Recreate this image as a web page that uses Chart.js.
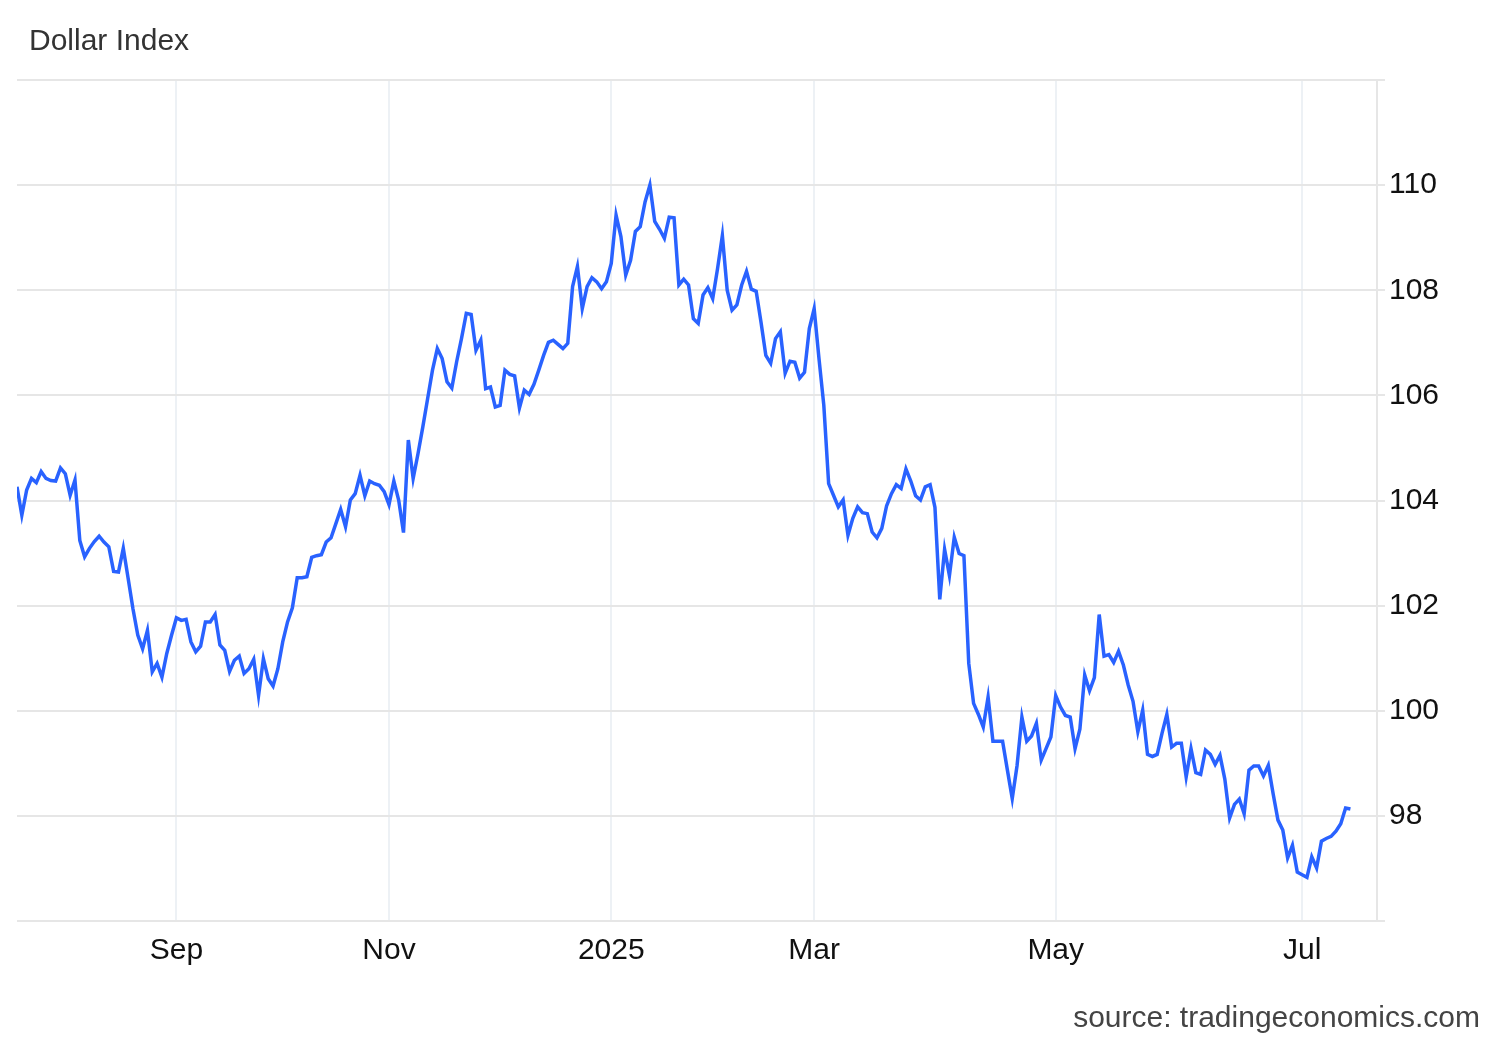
<!DOCTYPE html>
<html>
<head>
<meta charset="utf-8">
<title>Dollar Index</title>
<script src="https://cdn.jsdelivr.net/npm/chart.js@4.4.1/dist/chart.umd.min.js"></script>
<style>
  html, body { margin: 0; padding: 0; background: #fff; overflow: hidden; }
  .wrap { position: relative; width: 1500px; height: 1040px; }
  .title { position: absolute; left: 29px; top: 25px; font: 30px/30px "Liberation Sans", Arial, sans-serif; color: #333; white-space: nowrap; }
  .source { position: absolute; right: 20px; top: 1002px; font: 30px/30px "Liberation Sans", Arial, sans-serif; color: #444; white-space: nowrap; }
  canvas { position: absolute; left: 0; top: 0; }
</style>
</head>
<body>
<div class="wrap">
  <canvas id="grafico" width="1500" height="1040"></canvas>
  <div class="title">Dollar Index</div>
  <div class="source">source: tradingeconomics.com</div>
</div>
<script>
// daily closes, late Jul 2024 -> mid Jul 2025
const dollarIndex = [
  104.26, 103.72, 104.20, 104.42, 104.34, 104.55, 104.42, 104.38, 104.37, 104.62,
  104.51, 104.10, 104.39, 103.24, 102.93, 103.09, 103.22, 103.32, 103.21, 103.12,
  102.65, 102.64, 103.09, 102.52, 101.94, 101.44, 101.18, 101.53, 100.74, 100.90,
  100.64, 101.09, 101.44, 101.77, 101.72, 101.74, 101.31, 101.12, 101.23, 101.69,
  101.69, 101.83, 101.25, 101.15, 100.75, 100.96, 101.04, 100.71, 100.80, 100.98,
  100.29, 100.99, 100.61, 100.47, 100.80, 101.31, 101.69, 101.96, 102.53, 102.53,
  102.55, 102.92, 102.95, 102.97, 103.21, 103.29, 103.56, 103.83, 103.50, 104.01,
  104.13, 104.48, 104.09, 104.37, 104.32, 104.29, 104.17, 103.92, 104.37, 104.01,
  103.39, 105.15, 104.42, 104.89, 105.40, 105.94, 106.48, 106.89, 106.70, 106.26,
  106.14, 106.64, 107.08, 107.56, 107.54, 106.86, 107.05, 106.13, 106.16, 105.78,
  105.81, 106.48, 106.40, 106.37, 105.76, 106.10, 106.02, 106.21, 106.48, 106.76,
  107.01, 107.05, 106.97, 106.89, 106.99, 108.07, 108.45, 107.65, 108.07, 108.24,
  108.16, 108.03, 108.16, 108.51, 109.43, 109.02, 108.29, 108.57, 109.12, 109.21,
  109.68, 110.00, 109.31, 109.16, 108.99, 109.39, 109.38, 108.10, 108.21, 108.10,
  107.46, 107.37, 107.91, 108.05, 107.84, 108.41, 109.04, 108.00, 107.62, 107.72,
  108.10, 108.36, 108.02, 107.98, 107.39, 106.76, 106.61, 107.08, 107.21, 106.42,
  106.65, 106.63, 106.33, 106.44, 107.27, 107.65, 106.70, 105.81, 104.32, 104.10,
  103.88, 104.01, 103.34, 103.66, 103.88, 103.77, 103.75, 103.40, 103.29, 103.47,
  103.90, 104.13, 104.30, 104.23, 104.60, 104.37, 104.09, 104.01, 104.26, 104.30,
  103.87, 102.12, 103.07, 102.57, 103.30, 102.99, 102.95, 100.90, 100.14, 99.93,
  99.69, 100.26, 99.42, 99.42, 99.42, 98.87, 98.33, 98.96, 99.88, 99.42,
  99.52, 99.76, 99.06, 99.28, 99.50, 100.29, 100.07, 99.91, 99.88, 99.28,
  99.65, 100.68, 100.38, 100.63, 101.83, 101.04, 101.07, 100.92, 101.13, 100.87,
  100.49, 100.18, 99.60, 100.01, 99.17, 99.13, 99.17, 99.57, 99.93, 99.31,
  99.38, 99.38, 98.74, 99.28, 98.82, 98.79, 99.25, 99.17, 98.98, 99.15,
  98.70, 97.96, 98.22, 98.32, 98.04, 98.87, 98.95, 98.95, 98.76, 98.96,
  98.42, 97.92, 97.73, 97.20, 97.44, 96.93, 96.88, 96.83, 97.22, 97.01,
  97.52, 97.57, 97.61, 97.71, 97.85, 98.15, 98.13
];
// x axis labels and the index of the first point of each month
const monthLabels = ['Sep', 'Nov', '2025', 'Mar', 'May', 'Jul'];
const monthStart = [33, 77, 123, 165, 215, 266];
// y axis
const yMin = 96, yMax = 112, yStep = 2;
const yLabelMin = 98, yLabelMax = 110;

Chart.defaults.font.family = '"Liberation Sans", Arial, Helvetica, sans-serif';

const graph = new Chart(document.getElementById('grafico').getContext('2d'), {
    type: 'line',
    data: {
        datasets: [{
            label: 'Dollar Index',
            data: dollarIndex.map((v, i) => ({x: i, y: v})),
            borderColor: '#2962ff',
            borderWidth: 3.5,
            pointRadius: 0,
            tension: 0,
            fill: false
        }]
    },
    options: {
        responsive: false,
        animation: false,
        devicePixelRatio: 1,
        layout: { padding: { left: 17, top: 80, right: 0, bottom: 0 } },
        plugins: { legend: { display: false }, tooltip: { enabled: false } },
        scales: {
            x: {
                type: 'linear',
                min: 0,
                max: 281.5,
                afterBuildTicks: s => { s.ticks = monthStart.map(v => ({value: v})) },
                afterFit: s => { s.height = 119 },
                grid: { color: '#edf1f5', lineWidth: 2, drawTicks: false },
                border: { display: false },
                ticks: {
                    autoSkip: false,
                    maxRotation: 0,
                    padding: 12,
                    color: '#111',
                    font: { size: 30 },
                    callback: v => monthLabels[monthStart.indexOf(v)] || ''
                }
            },
            y: {
                position: 'right',
                min: yMin,
                max: yMax,
                afterFit: s => { s.width = 123 },
                grid: { color: '#e6e6e6', lineWidth: 2, tickLength: 8 },
                border: { display: true, color: '#e6e6e6', width: 2 },
                ticks: {
                    stepSize: yStep,
                    padding: 4,
                    color: '#111',
                    font: { size: 30 },
                    callback: v => (v >= yLabelMin && v <= yLabelMax) ? v : ''
                }
            }
        }
    }
});
</script>
</body>
</html>
